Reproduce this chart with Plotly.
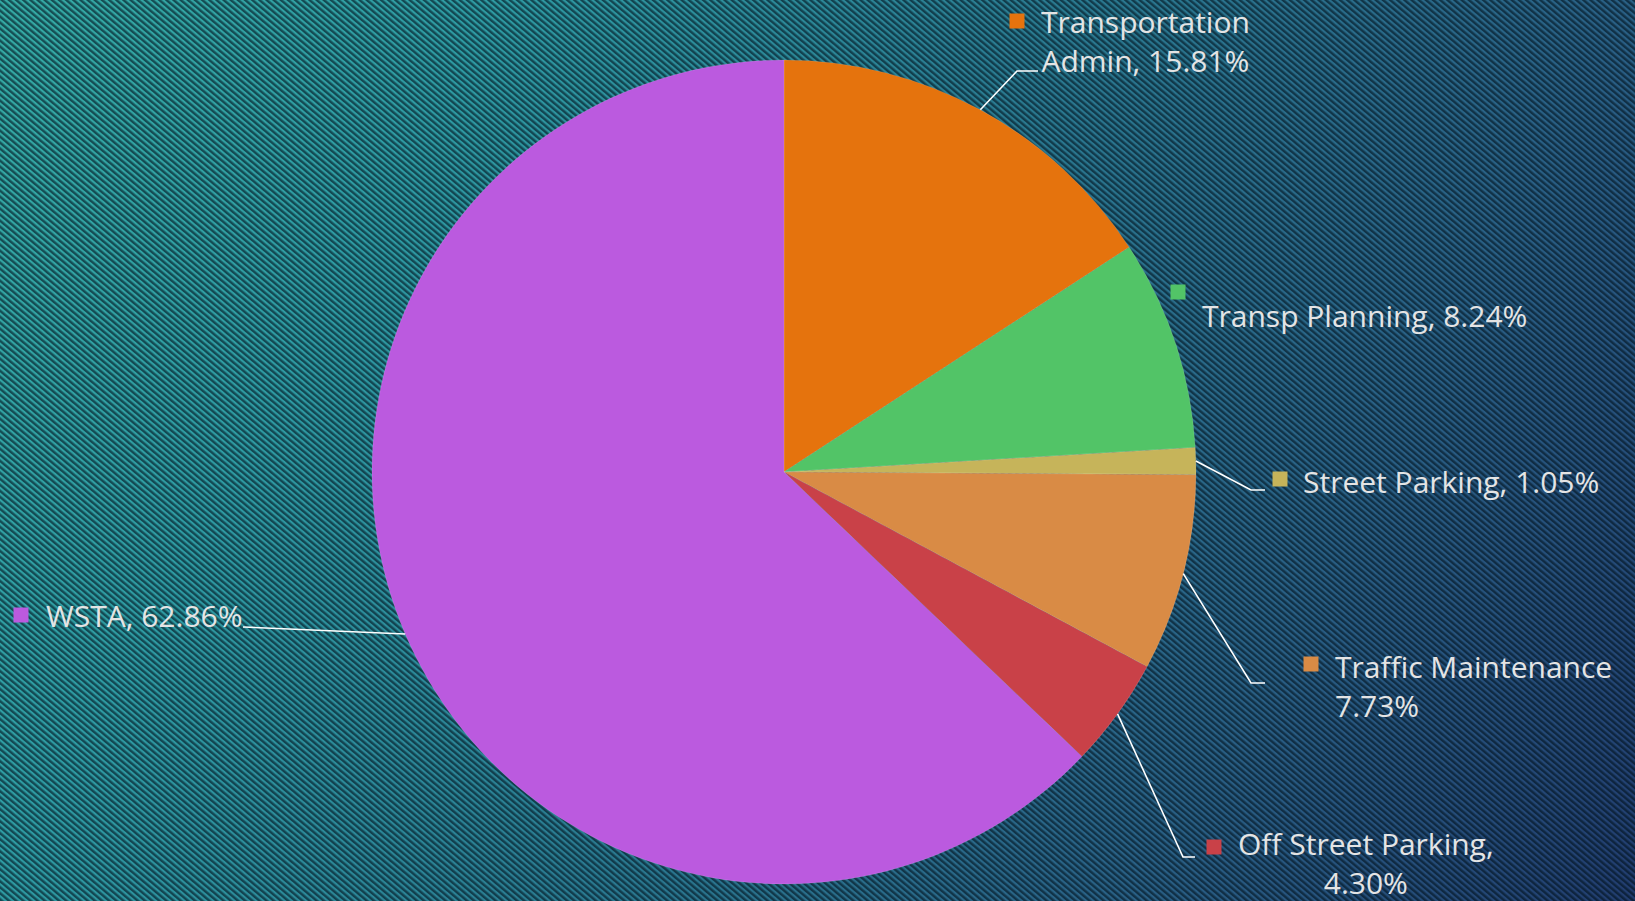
import base64
import math
import plotly.graph_objects as go

# ---------------- data ----------------
categories = ["Transportation Admin", "Transp Planning", "Street Parking",
              "Traffic Maintenance", "Off Street Parking", "WSTA"]
values = [15.81, 8.24, 1.05, 7.73, 4.30, 62.86]
label_texts = ["Transportation<br>Admin, 15.81%", "Transp Planning, 8.24%",
               "Street Parking, 1.05%", "Traffic Maintenance<br>7.73%",
               "Off Street Parking,<br>4.30%", "WSTA, 62.86%"]
colors = ["#E5730D", "#52C467", "#C6B45A", "#D98B45", "#C94148", "#BB5ADF"]

# ---------------- layout constants ----------------
W, H = 1635, 901
CX, CY, R = 784, 472, 412          # pie centre / radius in pixels
FONT = "Open Sans"
FSIZE = 30
TXT = "#E4E4E4"

# label placement (pixels): square centre, text anchor, align, leader elbow & end
label_layout = [
    dict(sq=(1017, 21), tx=(1039, 41), align="center", leader=[(1017, 71), (1038, 71)]),
    dict(sq=(1178, 292), tx=(1200, 315), align="left", leader=None),
    dict(sq=(1280, 479), tx=(1301, 482), align="left", leader=[(1251, 490), (1265, 490)]),
    dict(sq=(1311, 664), tx=(1333, 686), align="left", leader=[(1251, 683), (1265, 683)]),
    dict(sq=(1214, 847), tx=(1236, 863), align="center", leader=[(1183, 857), (1195, 857)]),
    dict(sq=(21, 615), tx=(44, 615), align="left", leader=[(243, 627)]),
]


def px(x):
    return x / W


def py(y):
    return 1 - y / H


# ---------------- background (gradient + diagonal hatch) ----------------
svg = f'''<svg xmlns="http://www.w3.org/2000/svg" width="{W}" height="{H}" viewBox="0 0 {W} {H}" preserveAspectRatio="none">
<defs>
<linearGradient id="g" gradientUnits="userSpaceOnUse" x1="0" y1="0" x2="{W}" y2="{H}">
<stop offset="0" stop-color="#35AAA4"/>
<stop offset="0.233" stop-color="#2E9AA2"/>
<stop offset="0.5" stop-color="#2A7A90"/>
<stop offset="0.767" stop-color="#295F84"/>
<stop offset="1" stop-color="#213C6E"/>
</linearGradient>
<pattern id="p" width="4.6" height="4.6" patternUnits="userSpaceOnUse" patternTransform="rotate(-50)">
<rect x="0" y="0" width="2.4" height="4.6" fill="#00101c" fill-opacity="0.6"/>
</pattern>
</defs>
<rect width="{W}" height="{H}" fill="url(#g)"/>
<rect width="{W}" height="{H}" fill="url(#p)"/>
</svg>'''
bg_src = "data:image/svg+xml;base64," + base64.b64encode(svg.encode()).decode()

fig = go.Figure()
fig.add_trace(go.Pie(
    labels=categories,
    values=values,
    sort=False,
    direction="clockwise",
    rotation=0,
    textinfo="none",
    hoverinfo="label+percent",
    marker=dict(colors=colors, line=dict(color="rgba(255,255,255,0.25)", width=0.5)),
    domain=dict(x=[px(CX - R), px(CX + R)], y=[py(CY + R), py(CY - R)]),
    showlegend=False,
))

shapes = []
annotations = []
total = sum(values)
cum = 0.0
for i, v in enumerate(values):
    mid = (cum + v / 2) / total * 2 * math.pi
    cum += v
    ex, ey = CX + R * math.sin(mid), CY - R * math.cos(mid)
    lay = label_layout[i]
    if lay["leader"]:
        pts = [(ex, ey)] + lay["leader"]
        path = "M " + " L ".join(f"{px(x)},{py(y)}" for x, y in pts)
        shapes.append(dict(type="path", path=path, xref="paper", yref="paper",
                           line=dict(color="white", width=1.6)))
    sx, sy = lay["sq"]
    s = 7.5
    shapes.append(dict(type="rect", xref="paper", yref="paper",
                       x0=px(sx - s), x1=px(sx + s), y0=py(sy + s), y1=py(sy - s),
                       fillcolor=colors[i], line=dict(width=0)))
    tx, ty = lay["tx"]
    annotations.append(dict(text=label_texts[i], x=px(tx), y=py(ty), xref="paper", yref="paper",
                            xanchor="left", yanchor="middle", align=lay["align"],
                            showarrow=False, font=dict(family=FONT, size=FSIZE, color=TXT)))

fig.update_layout(
    width=W, height=H,
    margin=dict(l=0, r=0, t=0, b=0),
    paper_bgcolor="#2A7E90",
    plot_bgcolor="rgba(0,0,0,0)",
    images=[dict(source=bg_src, xref="paper", yref="paper", x=0, y=1, sizex=1, sizey=1,
                 xanchor="left", yanchor="top", sizing="stretch", layer="below")],
    shapes=shapes,
    annotations=annotations,
)

fig.write_html("out.html", config={"displayModeBar": False},
               post_script="document.body.style.margin='0';document.body.style.overflow='hidden';")
